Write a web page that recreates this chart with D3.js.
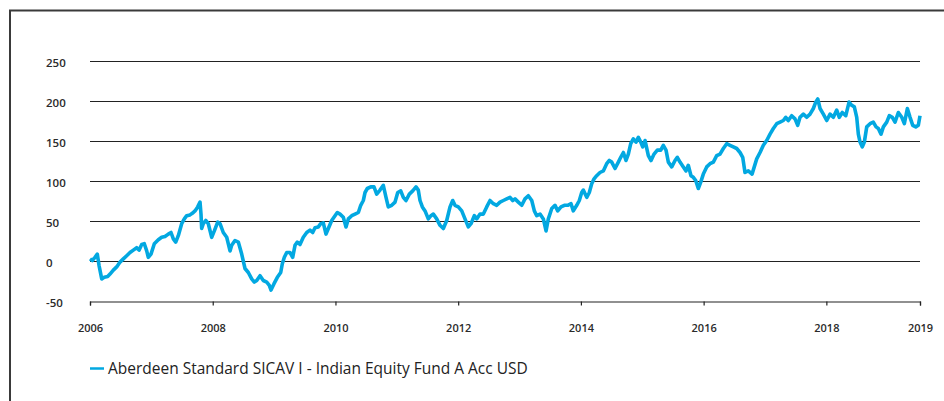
<!DOCTYPE html>
<html><head><meta charset="utf-8">
<script src="https://cdn.jsdelivr.net/npm/d3@7"></script>
<style>body{margin:0;background:#fff}svg{display:block}</style>
</head><body>
<svg id="c" width="944" height="401"></svg>
<script>
// decimal years (offset from 2006) and values
const yearOffsets = [0.000,0.037,0.081,0.119,0.147,0.191,0.233,0.288,0.326,0.380,0.435,0.489,0.543,0.598,0.652,0.706,0.761,0.799,0.843,0.885,0.924,0.950,0.994,1.048,1.113,1.168,1.222,1.276,1.320,1.358,1.397,1.439,1.494,1.537,1.576,1.630,1.667,1.711,1.755,1.793,1.809,1.820,1.846,1.886,1.928,1.983,2.026,2.081,2.119,2.172,2.228,2.282,2.309,2.363,2.417,2.472,2.526,2.580,2.635,2.678,
2.717,2.771,2.824,2.880,2.922,2.950,2.999,3.053,3.108,3.134,3.167,3.206,3.259,3.303,3.341,3.378,3.422,3.476,3.532,3.585,3.629,3.667,3.721,3.760,3.802,3.846,3.884,3.939,3.993,4.030,4.074,4.128,4.172,4.210,4.265,4.319,4.373,4.412,4.454,4.482,4.519,4.575,4.628,4.672,4.726,4.780,4.824,4.861,4.917,4.971,5.015,5.064,5.106,5.150,5.204,5.259,5.313,5.350,
5.378,5.416,5.460,5.513,5.557,5.595,5.650,5.704,5.758,5.813,5.867,5.911,5.948,6.002,6.058,6.111,6.165,6.209,6.263,6.302,6.356,6.410,6.465,6.519,6.573,6.628,6.682,6.736,6.791,6.845,6.889,6.926,6.980,7.036,7.089,7.143,7.199,7.241,7.280,7.334,7.388,7.432,7.469,7.525,7.578,7.622,7.676,7.730,7.785,7.839,7.876,7.932,7.974,
8.013,8.039,8.095,8.137,8.176,8.214,8.257,8.311,8.365,8.420,8.463,8.502,8.556,8.610,8.649,8.692,8.735,8.773,8.812,8.854,8.898,8.936,8.975,9.007,9.045,9.099,9.143,9.192,9.245,9.301,9.343,9.387,9.425,9.480,9.534,9.571,9.615,9.669,9.713,9.750,9.794,9.832,9.871,9.913,9.953,9.995,10.050,10.104,10.158,10.213,10.267,10.321,10.376,10.430,10.484,10.539,10.593,10.637,10.674,10.728,
10.789,10.865,10.919,10.973,11.028,11.082,11.136,11.191,11.245,11.299,11.338,11.380,11.435,11.489,11.533,11.571,11.625,11.680,11.734,11.788,11.827,11.860,11.897,11.951,12.006,12.060,12.114,12.169,12.211,12.260,12.316,12.370,12.414,12.456,12.495,12.521,12.549,12.586,12.619,12.658,12.712,12.765,12.810,12.847,12.891,12.929,12.984,13.026,13.075,13.119,13.173,13.229,13.271,13.320,13.364,13.408,13.457,13.499,13.526];
const values = [2,0,4,8,-6,-23,-21,-20,-17,-12,-8,-2,2,6,10,13,16,13,20,21,12,4,8,21,26,29,30,33,35,27,23,31,46,52,56,57,59,62,67,73,58,40,46,50,46,29,37,48,46,35,29,12,19,25,23,8,-10,-15,-23,-27,
-25,-19,-25,-27,-31,-37,-29,-21,-15,-4,4,10,10,4,19,23,20,29,35,38,35,41,42,46,47,33,40,50,56,60,58,54,42,52,56,58,60,69,75,85,90,92,92,83,88,94,79,67,69,73,85,87,79,75,83,87,92,88,
75,67,62,52,56,58,52,44,40,50,67,75,69,67,62,52,42,46,56,52,58,58,67,75,71,69,73,75,77,79,75,77,73,69,77,81,75,62,56,58,52,37,52,65,69,62,67,69,69,71,62,69,75,
85,88,79,85,96,102,106,110,112,121,125,123,115,123,129,135,125,133,146,152,148,154,148,142,150,131,125,133,138,138,144,138,123,117,125,129,123,117,112,119,106,104,100,90,98,108,117,121,123,131,133,140,146,144,142,140,135,129,110,112,
108,127,135,144,150,158,165,171,173,175,179,175,181,177,169,179,183,179,183,190,198,202,190,183,175,183,179,188,179,185,181,198,194,192,179,158,148,142,148,167,171,173,167,165,158,167,173,181,179,173,185,179,171,190,179,169,167,169,181];
const startYear = 2006, endYear = 2019.526;
const xTickValues = [2006,2008,2010,2012,2014,2016,2018,2019.526];
const xTickLabels = ["2006","2008","2010","2012","2014","2016","2018","2019"];
const yTicks = [-50,0,50,100,150,200,250];
const seriesName = "Aberdeen Standard SICAV I - Indian Equity Fund A Acc USD";

const data = yearOffsets.map((o,i)=>({t:startYear+o, v:values[i]}));
const svg = d3.select("#c");
const L=90, R=920, T=60.5, B=300.5;
const x = d3.scaleLinear().domain([startYear,endYear]).range([L,R]);
const y = d3.scaleLinear().domain([-50,250]).range([B,T]);
const font = "'Open Sans', 'Noto Sans', sans-serif";
const txt = "#2b2b2b", line = "#02a8e1";

// frame
svg.append("path").attr("d","M10,401 V10.5 H944").attr("fill","none").attr("stroke","#3a3a3a").attr("stroke-width",2);

// grid
svg.append("g").selectAll("line").data(yTicks.filter(d=>d>-50)).join("line")
  .attr("x1",L).attr("x2",R).attr("y1",d=>Math.round(y(d))+0.5).attr("y2",d=>Math.round(y(d))+0.5)
  .attr("stroke","#222").attr("stroke-width",1.2);
// y labels
svg.append("g").selectAll("text").data(yTicks).join("text")
  .attr("x",46).attr("y",d=>y(d)+6).text(d=>d)
  .attr("font-family",font).attr("font-size",11.5).attr("font-weight",600).attr("fill",txt);

// x axis
const xa = d3.axisBottom(x).tickValues(xTickValues).tickSize(4).tickPadding(19)
  .tickFormat((d,i)=>xTickLabels[i]);
const gx = svg.append("g").attr("transform",`translate(0,${Math.round(y(-50))+0.5})`).call(xa);
gx.select(".domain").attr("stroke","#222").attr("stroke-width",1.2);
gx.selectAll(".tick line").attr("stroke","#222").attr("stroke-width",1.2);
gx.selectAll(".tick text").attr("font-family",font).attr("font-size",11).attr("font-weight",600).attr("fill",txt);

// series
svg.append("path").datum(data)
  .attr("d",d3.line().x(d=>x(d.t)).y(d=>y(d.v)))
  .attr("fill","none").attr("stroke",line).attr("stroke-width",3.6).attr("stroke-linejoin","round");

// legend
const lg = svg.append("g");
lg.append("line").attr("x1",90).attr("x2",104).attr("y1",368.5).attr("y2",368.5).attr("stroke",line).attr("stroke-width",2.5);
const lt = lg.append("text").attr("x",108).attr("y",374).text(seriesName)
  .attr("font-family",font).attr("font-size",15).attr("fill","#222");
const w = lt.node().getComputedTextLength();
lt.attr("font-size",15*420/w);
</script>
</body></html>
